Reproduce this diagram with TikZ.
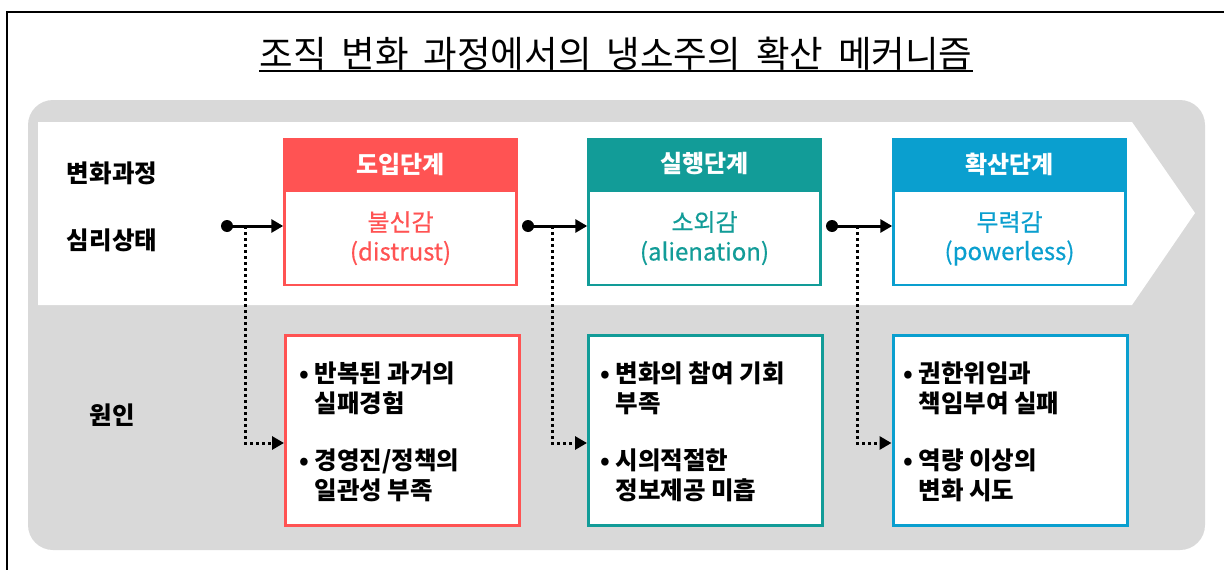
\documentclass[tikz,border=0pt]{standalone}
\usepackage{fontspec}
\setmainfont{Noto Sans CJK KR}
\newfontfamily\medfont[FakeBold=0.5]{Noto Sans CJK KR}
\usetikzlibrary{arrows.meta}
\definecolor{cred}{HTML}{FF5353}
\definecolor{cteal}{HTML}{129C98}
\definecolor{cblue}{HTML}{0A9FCF}
\definecolor{cgray}{HTML}{D9D9D9}
\newcommand{\tsp}{\hspace{15pt}}
\tikzset{
  header/.style={fill=#1, text=white, minimum width=235, minimum height=52, inner sep=0, font=\fontsize{24}{28}\selectfont\bfseries},
  statebox/.style={draw=#1, fill=white, line width=2.5, minimum width=232, minimum height=94, inner sep=0},
  causebox/.style={draw=#1, fill=white, line width=3, minimum width=234, minimum height=190, inner sep=0},
  statetext/.style={text=#1, inner sep=0, font=\fontsize{24}{28}\selectfont\medfont},
  itemtext/.style={anchor=west, align=left, inner sep=0, font=\fontsize{24.5}{30}\selectfont\bfseries},
  sidelabel/.style={inner sep=0, font=\fontsize{24.5}{28}\selectfont\bfseries},
  startdot/.style={circle, fill=black, inner sep=0, minimum size=12},
  mainarrow/.style={line width=3, -{Triangle[length=12,width=13]}},
  dotarrow/.style={line width=3, dash pattern=on 3 off 3, -{Triangle[length=12,width=13]}},
}
\begin{document}
\begin{tikzpicture}[x=1pt,y=-1pt]
\useasboundingbox (0,0) rectangle (1224,570);
% frame
\draw[line width=1.5] (7,570) -- (7,12) -- (1224,12);
% title
\node[inner sep=0, anchor=base, font=\fontsize{36.5}{40}\selectfont] (title) at (616,67) {조직\tsp 변화\tsp 과정에서의\tsp 냉소주의\tsp 확산\tsp 메커니즘};
\draw[line width=1.5] (title.west |- 0,71) -- (title.east |- 0,71);
% background
\fill[cgray, rounded corners=25] (28,100) rectangle (1205,550);
\fill[white] (38,122) -- (1132,122) -- (1195,213) -- (1132,305) -- (38,305) -- cycle;
% side labels
\node[sidelabel] (l1) at (112,173) {변화과정};
\node[sidelabel] (l2) at (112,240) {심리상태};
\node[sidelabel] (l3) at (112,415) {원인};
% stage 1
\node[statebox=cred] (s1) at (400.5,238) {};
\node[header=cred] (h1) at (400.5,164) {도입단계};
\node[statetext=cred] (s1a) at (400.5,222) {불신감};
\node[statetext=cred] (s1b) at (400.5,253) {(distrust)};
\node[causebox=cred] (c1) at (402.5,430.5) {};
\node[itemtext] (c1a) at (299,388) {• 반복된 과거의\\\phantom{• }실패경험};
\node[itemtext] (c1b) at (299,475) {• 경영진/정책의\\\phantom{• }일관성 부족};
% stage 2
\node[statebox=cteal] (s2) at (704.5,238) {};
\node[header=cteal] (h2) at (704.5,164) {실행단계};
\node[statetext=cteal] (s2a) at (704.5,222) {소외감};
\node[statetext=cteal] (s2b) at (704.5,253) {(alienation)};
\node[causebox=cteal] (c2) at (705.5,430.5) {};
\node[itemtext] (c2a) at (600,388) {• 변화의 참여 기회\\\phantom{• }부족};
\node[itemtext] (c2b) at (600,475) {• 시의적절한\\\phantom{• }정보제공 미흡};
% stage 3
\node[statebox=cblue] (s3) at (1009.5,238) {};
\node[header=cblue] (h3) at (1009.5,164) {확산단계};
\node[statetext=cblue] (s3a) at (1009.5,222) {무력감};
\node[statetext=cblue] (s3b) at (1009.5,253) {(powerless)};
\node[causebox=cblue] (c3) at (1010,430.5) {};
\node[itemtext] (c3a) at (903,388) {• 권한위임과\\\phantom{• }책임부여 실패};
\node[itemtext] (c3b) at (903,475) {• 역량 이상의\\\phantom{• }변화 시도};
% connectors
\node[startdot] (d1) at (227,226) {};
\node[startdot] (d2) at (528,226) {};
\node[startdot] (d3) at (832,226) {};
\coordinate (v1) at (245,226);
\coordinate (v2) at (552,226);
\coordinate (v3) at (857,226);
\draw[mainarrow] (d1.center) -- (d1 -| s1.west);
\draw[mainarrow] (d2.center) -- (d2 -| s2.west);
\draw[mainarrow] (d3.center) -- (d3 -| s3.west);
\draw[dotarrow] (v1) |- (c1.west |- 0,443);
\draw[dotarrow] (v2) |- (c2.west |- 0,443);
\draw[dotarrow] (v3) |- (c3.west |- 0,443);
\end{tikzpicture}
\end{document}
